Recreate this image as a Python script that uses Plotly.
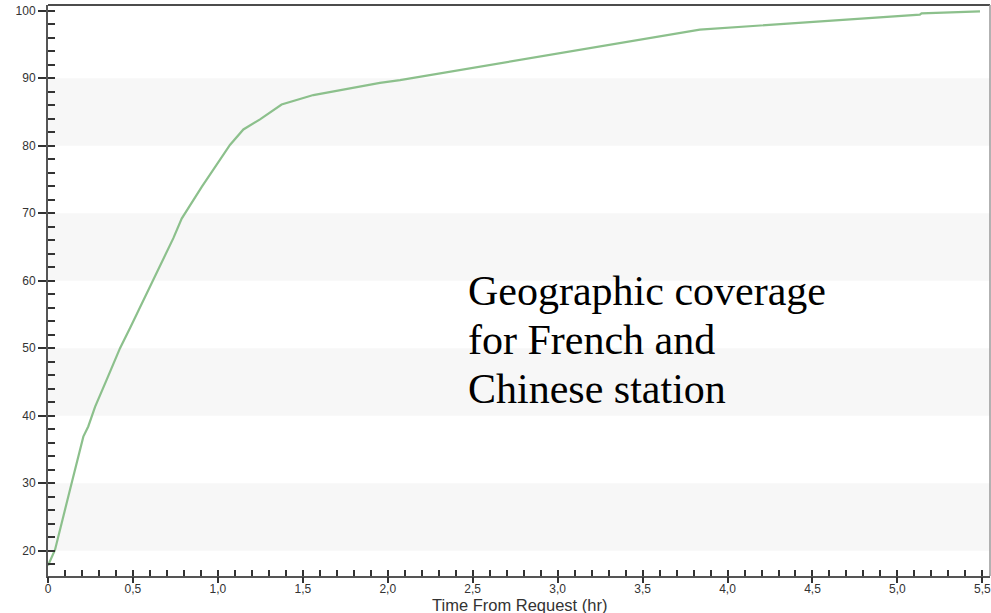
import plotly.graph_objects as go

# Cumulative geographic coverage (%) versus time from request (hours)
time_hr = [0.0, 0.041, 0.139, 0.208, 0.237, 0.277, 0.345, 0.424, 0.483, 0.6,
           0.669, 0.738, 0.787, 0.905, 1.071, 1.15, 1.248, 1.375, 1.562, 1.836,
           1.954, 2.072, 2.896, 3.72, 3.837, 5.132, 5.142, 5.486]
coverage = [17.8, 20.1, 30.0, 36.9, 38.4, 41.3, 45.3, 50.0, 53.0, 59.1,
            62.6, 66.3, 69.2, 73.9, 80.1, 82.4, 83.9, 86.1, 87.5, 88.7,
            89.3, 89.7, 93.2, 96.6, 97.2, 99.4, 99.6, 99.9]

x_tickvals = [0, 0.5, 1.0, 1.5, 2.0, 2.5, 3.0, 3.5, 4.0, 4.5, 5.0, 5.5]
x_ticktext = ["0", "0,5", "1,0", "1,5", "2,0", "2,5", "3,0", "3,5", "4,0", "4,5", "5,0", "5,5"]
y_tickvals = [20, 30, 40, 50, 60, 70, 80, 90, 100]
band_ranges = [(20, 30), (40, 50), (60, 70), (80, 90)]
caption_lines = ["Geographic coverage", "for French and", "Chinese station"]

x_range = [0, 5.545]
y_range = [16.25, 100.84]

# plot area in pixels
W, H = 991, 613
L, R, T, B = 48, 1, 5, 37
PW, PH = W - L - R, H - T - B

def px_to_paper_y(py):
    return (H - B - py) / PH

def px_to_paper_x(px):
    return (px - L) / PW

fig = go.Figure()
fig.add_trace(go.Scatter(
    x=time_hr, y=coverage, mode="lines",
    line=dict(color="#8cc08c", width=2.2),
    showlegend=False, hoverinfo="skip",
))
# empty traces so the overlay tick axes get drawn
fig.add_trace(go.Scatter(x=[None], y=[None], xaxis="x2", yaxis="y2",
                         showlegend=False, hoverinfo="skip"))
fig.add_trace(go.Scatter(x=[None], y=[None], xaxis="x3", yaxis="y2",
                         showlegend=False, hoverinfo="skip"))

shapes = []
for lo, hi in band_ranges:
    shapes.append(dict(type="rect", xref="paper", yref="y", x0=0, x1=1, y0=lo, y1=hi,
                       fillcolor="#f7f7f7", line=dict(width=0), layer="below"))
shapes.append(dict(type="line", xref="paper", yref="paper", x0=0, x1=1, y0=1, y1=1,
                   line=dict(color="#111111", width=1.5)))
shapes.append(dict(type="line", xref="paper", yref="paper", x0=1, x1=1, y0=0, y1=1,
                   line=dict(color="#999999", width=1.5)))

tick_font = dict(family="Liberation Sans, Arial, sans-serif", size=12, color="#333333")
tick_col = "#333333"

annotations = []
# caption, one annotation per line
for i, line in enumerate(caption_lines):
    annotations.append(dict(
        xref="paper", yref="paper", x=px_to_paper_x(466), y=px_to_paper_y(266 + 49 * i),
        xanchor="left", yanchor="top", align="left", showarrow=False, text=line,
        font=dict(family="Liberation Serif, Times New Roman, serif", size=42, color="#000000"),
    ))
# x-axis title
annotations.append(dict(
    xref="paper", yref="paper", x=0.5, y=px_to_paper_y(605),
    xanchor="center", yanchor="middle", showarrow=False, text="Time From Request (hr)",
    font=dict(family="Liberation Sans, Arial, sans-serif", size=16.5, color="#333333"),
))

fig.update_layout(
    width=W, height=H,
    margin=dict(l=L, r=R, t=T, b=B),
    paper_bgcolor="white", plot_bgcolor="white",
    shapes=shapes,
    annotations=annotations,
    xaxis=dict(
        range=x_range, tickvals=x_tickvals, ticktext=x_ticktext,
        ticks="outside", ticklen=1, tickwidth=1, tickcolor="rgba(0,0,0,0)",
        ticklabeloverflow="allow",
        showline=True, linecolor="#555555", linewidth=2,
        showgrid=False, zeroline=False, tickfont=tick_font,
    ),
    yaxis=dict(
        range=y_range, tickvals=y_tickvals,
        ticks="outside", ticklen=8, tickwidth=1.5, tickcolor=tick_col,
        showline=True, linecolor="#555555", linewidth=2,
        showgrid=False, zeroline=False, tickfont=tick_font,
    ),
    # inside ticks every 0.1 hr
    xaxis2=dict(
        overlaying="x", range=x_range, dtick=0.1, tick0=0,
        ticks="inside", ticklen=6, tickwidth=1.5, tickcolor=tick_col,
        showticklabels=False, showline=False, showgrid=False, zeroline=False,
    ),
    # outside ticks at the labelled positions
    xaxis3=dict(
        overlaying="x", range=x_range, tickvals=x_tickvals,
        ticks="outside", ticklen=6, tickwidth=1.5, tickcolor=tick_col,
        showticklabels=False, showline=False, showgrid=False, zeroline=False,
    ),
    # inside ticks every 2 %
    yaxis2=dict(
        overlaying="y", range=y_range, dtick=2, tick0=0,
        ticks="inside", ticklen=7, tickwidth=1.5, tickcolor=tick_col,
        showticklabels=False, showline=False, showgrid=False, zeroline=False,
    ),
)

fig.write_html("out.html")
